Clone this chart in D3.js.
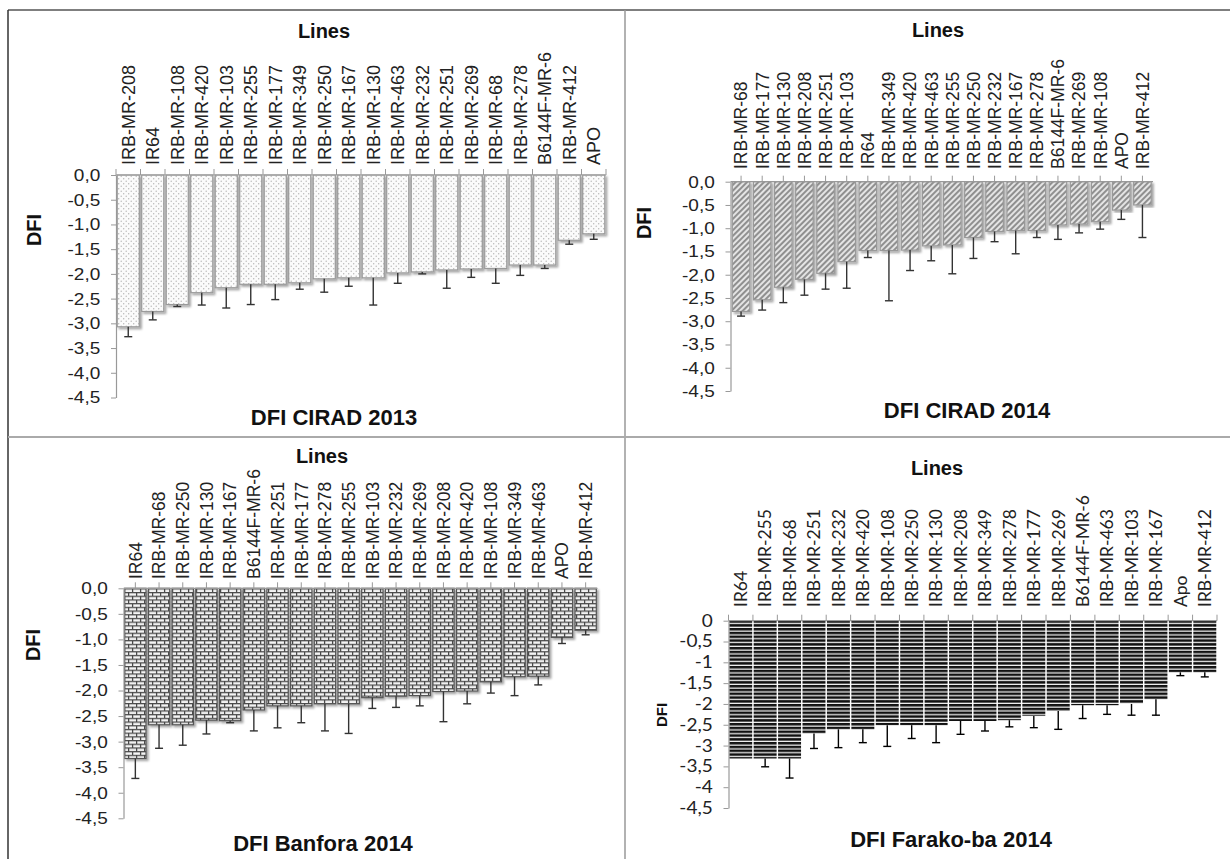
<!DOCTYPE html>
<html>
<head>
<meta charset="utf-8">
<script src="https://cdn.jsdelivr.net/npm/d3@7"></script>
<style>
  body { margin: 0; background: #fff; }
  svg { display: block; }
</style>
</head>
<body>
<svg id="chart" width="1230" height="859"></svg>
<script>
// y tick values shared by the four panels
const yTicks = [0, -0.5, -1, -1.5, -2, -2.5, -3, -3.5, -4, -4.5];

// DFI CIRAD 2013
const cirad2013Lines = ['IRB-MR-208', 'IR64', 'IRB-MR-108', 'IRB-MR-420', 'IRB-MR-103', 'IRB-MR-255', 'IRB-MR-177',
  'IRB-MR-349', 'IRB-MR-250', 'IRB-MR-167', 'IRB-MR-130', 'IRB-MR-463', 'IRB-MR-232', 'IRB-MR-251', 'IRB-MR-269',
  'IRB-MR-68', 'IRB-MR-278', 'B6144F-MR-6', 'IRB-MR-412', 'APO'];
const cirad2013Dfi = [-3.07, -2.76, -2.62, -2.38, -2.28, -2.21, -2.21, -2.18, -2.10, -2.08,
  -2.08, -1.98, -1.96, -1.92, -1.90, -1.89, -1.82, -1.82, -1.32, -1.19];
const cirad2013Sd = [0.20, 0.17, 0.04, 0.25, 0.41, 0.41, 0.31, 0.13, 0.27, 0.17,
  0.55, 0.21, 0.04, 0.37, 0.17, 0.30, 0.21, 0.07, 0.08, 0.11];

// DFI CIRAD 2014
const cirad2014Lines = ['IRB-MR-68', 'IRB-MR-177', 'IRB-MR-130', 'IRB-MR-208', 'IRB-MR-251', 'IRB-MR-103', 'IR64',
  'IRB-MR-349', 'IRB-MR-420', 'IRB-MR-463', 'IRB-MR-255', 'IRB-MR-250', 'IRB-MR-232', 'IRB-MR-167', 'IRB-MR-278',
  'B6144F-MR-6', 'IRB-MR-269', 'IRB-MR-108', 'APO', 'IRB-MR-412'];
const cirad2014Dfi = [-2.79, -2.54, -2.27, -2.10, -1.97, -1.72, -1.48, -1.48, -1.47, -1.38,
  -1.36, -1.20, -1.07, -1.05, -1.05, -0.93, -0.91, -0.86, -0.61, -0.50];
const cirad2014Sd = [0.10, 0.22, 0.33, 0.34, 0.34, 0.57, 0.15, 1.08, 0.44, 0.32,
  0.62, 0.45, 0.22, 0.50, 0.15, 0.31, 0.19, 0.16, 0.20, 0.70];

// DFI Banfora 2014
const banfora2014Lines = ['IR64', 'IRB-MR-68', 'IRB-MR-250', 'IRB-MR-130', 'IRB-MR-167', 'B6144F-MR-6', 'IRB-MR-251',
  'IRB-MR-177', 'IRB-MR-278', 'IRB-MR-255', 'IRB-MR-103', 'IRB-MR-232', 'IRB-MR-269', 'IRB-MR-208', 'IRB-MR-420',
  'IRB-MR-108', 'IRB-MR-349', 'IRB-MR-463', 'APO', 'IRB-MR-412'];
const banfora2014Dfi = [-3.33, -2.67, -2.67, -2.58, -2.59, -2.38, -2.30, -2.30, -2.26, -2.26,
  -2.14, -2.11, -2.10, -2.02, -2.01, -1.83, -1.73, -1.72, -0.96, -0.82];
const banfora2014Sd = [0.39, 0.46, 0.40, 0.27, 0.04, 0.41, 0.43, 0.33, 0.53, 0.58,
  0.21, 0.22, 0.20, 0.59, 0.25, 0.22, 0.37, 0.17, 0.12, 0.09];

// DFI Farako-ba 2014
const farakoba2014Lines = ['IR64', 'IRB-MR-255', 'IRB-MR-68', 'IRB-MR-251', 'IRB-MR-232', 'IRB-MR-420', 'IRB-MR-108',
  'IRB-MR-250', 'IRB-MR-130', 'IRB-MR-208', 'IRB-MR-349', 'IRB-MR-278', 'IRB-MR-177', 'IRB-MR-269', 'B6144F-MR-6',
  'IRB-MR-463', 'IRB-MR-103', 'IRB-MR-167', 'Apo', 'IRB-MR-412'];
const farakoba2014Dfi = [-3.31, -3.31, -3.31, -2.71, -2.61, -2.61, -2.51, -2.51, -2.51, -2.41,
  -2.41, -2.39, -2.29, -2.17, -2.03, -2.03, -2.00, -1.89, -1.24, -1.24];
const farakoba2014Sd = [0, 0.20, 0.47, 0.36, 0.44, 0.32, 0.51, 0.32, 0.42, 0.32,
  0.24, 0.16, 0.28, 0.44, 0.32, 0.22, 0.27, 0.38, 0.08, 0.11];

const ARIAL = "'Liberation Sans', Arial, sans-serif";
const CALIBRI = "Lato, 'Open Sans', sans-serif";

const locale = d3.formatLocale({decimal: ',', thousands: '.', grouping: [3], currency: ['', ''], minus: '-'});
const fmtFixed = locale.format('.1f');
const fmtTrim = locale.format('.1~f');

const PANELS = [
  {lines: cirad2013Lines, dfi: cirad2013Dfi, sd: cirad2013Sd, title: 'DFI CIRAD 2013',
   fill: 'url(#dots)', stroke: '#9a9a9a', shadow: true, errColor: '#333', pad: 0.1, tickAt: 'edge',
   x0: 116, x1: 606, y0: 175, y1: 397.5, labelY: 165, labelSize: 18, font: ARIAL, fmt: fmtFixed,
   linesX: 324, linesY: 38, titleX: 334, titleY: 425, dfiX: 34, dfiY: 230, dfiSize: 20},
  {lines: cirad2014Lines, dfi: cirad2014Dfi, sd: cirad2014Sd, title: 'DFI CIRAD 2014',
   fill: 'url(#hatch)', stroke: '#999', shadow: true, errColor: '#333', pad: 0.17, tickAt: 'center',
   x0: 730.5, x1: 1153, y0: 181.7, y1: 391, labelY: 169, labelSize: 17.5, font: ARIAL, fmt: fmtFixed,
   linesX: 938, linesY: 37, titleX: 967, titleY: 418, dfiX: 644, dfiY: 223, dfiSize: 20},
  {lines: banfora2014Lines, dfi: banfora2014Dfi, sd: banfora2014Sd, title: 'DFI Banfora 2014',
   fill: 'url(#brick)', stroke: '#555', shadow: true, errColor: '#333', pad: 0.1, tickAt: 'center',
   x0: 123.5, x1: 597.5, y0: 588.3, y1: 818.3, labelY: 579, labelSize: 17.5, font: ARIAL, fmt: fmtFixed,
   linesX: 322, linesY: 463, titleX: 323, titleY: 851, dfiX: 33, dfiY: 645, dfiSize: 20},
  {lines: farakoba2014Lines, dfi: farakoba2014Dfi, sd: farakoba2014Sd, title: 'DFI Farako-ba 2014',
   fill: 'url(#stripes)', stroke: 'none', shadow: false, errColor: '#000', pad: 0.06, tickAt: 'edge',
   x0: 728.5, x1: 1217, y0: 620.7, y1: 808, labelY: 607, labelSize: 17.5, font: CALIBRI, fmt: fmtTrim,
   linesX: 937, linesY: 475, titleX: 951, titleY: 847, dfiX: 662, dfiY: 715, dfiSize: 15}
];

const svg = d3.select('#chart');
const defs = svg.append('defs');

// fill patterns for the four panels
const dots = defs.append('pattern').attr('id', 'dots').attr('patternUnits', 'userSpaceOnUse')
  .attr('width', 5).attr('height', 5);
dots.append('rect').attr('width', 5).attr('height', 5).attr('fill', '#fbfbfb');
dots.append('circle').attr('cx', 1.2).attr('cy', 1.2).attr('r', 0.7).attr('fill', '#b5b5b5');
dots.append('circle').attr('cx', 3.7).attr('cy', 3.7).attr('r', 0.7).attr('fill', '#b5b5b5');

const hatch = defs.append('pattern').attr('id', 'hatch').attr('patternUnits', 'userSpaceOnUse')
  .attr('width', 4).attr('height', 4).attr('patternTransform', 'rotate(45)');
hatch.append('rect').attr('width', 4).attr('height', 4).attr('fill', '#e4e4e4');
hatch.append('line').attr('x1', 1).attr('x2', 1).attr('y1', 0).attr('y2', 4)
  .attr('stroke', '#7a7a7a').attr('stroke-width', 1.6);

const brick = defs.append('pattern').attr('id', 'brick').attr('patternUnits', 'userSpaceOnUse')
  .attr('width', 8).attr('height', 7.4);
brick.append('rect').attr('width', 8).attr('height', 7.4).attr('fill', '#f4f4f4');
brick.append('g').attr('stroke', '#4a4a4a').attr('stroke-width', 1.3)
  .call(b => {
    b.append('line').attr('x1', 0).attr('x2', 8).attr('y1', 0.6).attr('y2', 0.6);
    b.append('line').attr('x1', 0).attr('x2', 8).attr('y1', 4.3).attr('y2', 4.3);
    b.append('line').attr('x1', 0.6).attr('x2', 0.6).attr('y1', 0.6).attr('y2', 4.3);
    b.append('line').attr('x1', 4.6).attr('x2', 4.6).attr('y1', 4.3).attr('y2', 7.4);
  });

const stripes = defs.append('pattern').attr('id', 'stripes').attr('patternUnits', 'userSpaceOnUse')
  .attr('width', 6).attr('height', 3.8);
stripes.append('rect').attr('width', 6).attr('height', 3.8).attr('fill', '#fff');
stripes.append('rect').attr('y', 0.9).attr('width', 6).attr('height', 2.6).attr('fill', '#111');

defs.append('filter').attr('id', 'shadow').attr('x', '-20%').attr('y', '-5%')
  .attr('width', '150%').attr('height', '115%')
  .append('feDropShadow').attr('dx', 2).attr('dy', 2).attr('stdDeviation', 1.2)
  .attr('flood-color', '#000').attr('flood-opacity', 0.35);

// panel frames
const frame = svg.append('g').attr('fill', 'none');
frame.append('line').attr('x1', 8).attr('x2', 1230).attr('y1', 10).attr('y2', 10)
  .attr('stroke', '#555').attr('stroke-width', 1.5);
frame.append('line').attr('x1', 8).attr('x2', 8).attr('y1', 10).attr('y2', 859)
  .attr('stroke', '#333').attr('stroke-width', 1.5);
frame.append('line').attr('x1', 625).attr('x2', 625).attr('y1', 10).attr('y2', 859)
  .attr('stroke', '#999').attr('stroke-width', 1.5);
frame.append('line').attr('x1', 8).attr('x2', 1230).attr('y1', 437).attr('y2', 437)
  .attr('stroke', '#aaa').attr('stroke-width', 1.8);

PANELS.forEach(drawPanel);

function drawPanel(p) {
  const g = svg.append('g');
  const data = p.lines.map((line, i) => ({line: line, dfi: p.dfi[i], sd: p.sd[i]}));

  const x = d3.scaleBand()
    .domain(p.lines)
    .range([p.x0, p.x1])
    .paddingInner(p.pad)
    .paddingOuter(p.pad / 2);

  const y = d3.scaleLinear()
    .domain([0, -4.5])
    .range([p.y0, p.y1]);

  // bars
  g.append('g').selectAll('rect')
    .data(data)
    .join('rect')
    .attr('x', d => x(d.line))
    .attr('y', y(0))
    .attr('width', x.bandwidth())
    .attr('height', d => y(d.dfi) - y(0))
    .attr('fill', p.fill)
    .attr('stroke', p.stroke)
    .attr('stroke-width', 1.2)
    .attr('filter', p.shadow ? 'url(#shadow)' : null);

  // one-sided error bars
  const err = g.append('g').attr('stroke', p.errColor).attr('stroke-width', 1.4)
    .selectAll('g')
    .data(data.filter(d => d.sd > 0))
    .join('g')
    .attr('transform', d => 'translate(' + (x(d.line) + x.bandwidth() / 2) + ',0)');
  err.append('line')
    .attr('y1', d => y(d.dfi))
    .attr('y2', d => y(d.dfi - d.sd));
  err.append('line')
    .attr('x1', -4).attr('x2', 4)
    .attr('y1', d => y(d.dfi - d.sd))
    .attr('y2', d => y(d.dfi - d.sd));

  // value axis
  const yAxis = d3.axisLeft(y)
    .tickValues(yTicks)
    .tickSize(5)
    .tickSizeOuter(0)
    .tickPadding(9)
    .tickFormat(p.fmt);

  const ya = g.append('g')
    .attr('transform', 'translate(' + p.x0 + ',0)')
    .call(yAxis);
  ya.select('.domain').attr('stroke', '#999').attr('stroke-width', 1.2);
  ya.selectAll('.tick line').attr('stroke', '#999');
  ya.selectAll('.tick text')
    .attr('fill', '#222')
    .style('font-family', p.font)
    .style('font-size', '17px')
    .attr('transform', 'scale(1.12,1)');

  // zero line with category ticks pointing up
  g.append('line')
    .attr('x1', p.x0).attr('x2', p.x1)
    .attr('y1', y(0)).attr('y2', y(0))
    .attr('stroke', '#999').attr('stroke-width', 1.2);

  const tickXs = p.tickAt === 'edge'
    ? d3.range(p.lines.length + 1).map(i => p.x0 + i * x.step())
    : p.lines.map(l => x(l) + x.bandwidth() / 2);
  g.append('g').selectAll('line')
    .data(tickXs)
    .join('line')
    .attr('x1', d => d).attr('x2', d => d)
    .attr('y1', y(0)).attr('y2', y(0) - 6)
    .attr('stroke', '#999');

  // category labels
  g.append('g').selectAll('text')
    .data(p.lines)
    .join('text')
    .attr('transform', d => 'translate(' + (x(d) + x.bandwidth() / 2) + ',' + p.labelY + ') rotate(-90)')
    .attr('dy', '0.36em')
    .attr('text-anchor', 'start')
    .attr('fill', '#222')
    .style('font-family', p.font)
    .style('font-size', p.labelSize + 'px')
    .text(d => d);

  // titles
  g.append('text')
    .attr('x', p.linesX).attr('y', p.linesY)
    .attr('text-anchor', 'middle')
    .style('font-family', ARIAL).style('font-weight', 'bold').style('font-size', '20px')
    .attr('fill', '#111')
    .text('Lines');

  g.append('text')
    .attr('x', p.titleX).attr('y', p.titleY)
    .attr('text-anchor', 'middle')
    .style('font-family', ARIAL).style('font-weight', 'bold').style('font-size', '22px')
    .attr('fill', '#111')
    .text(p.title);

  g.append('text')
    .attr('transform', 'translate(' + p.dfiX + ',' + p.dfiY + ') rotate(-90)')
    .attr('dy', '0.36em')
    .attr('text-anchor', 'middle')
    .style('font-family', ARIAL).style('font-weight', 'bold').style('font-size', p.dfiSize + 'px')
    .attr('fill', '#111')
    .text('DFI');
}
</script>
</body>
</html>
